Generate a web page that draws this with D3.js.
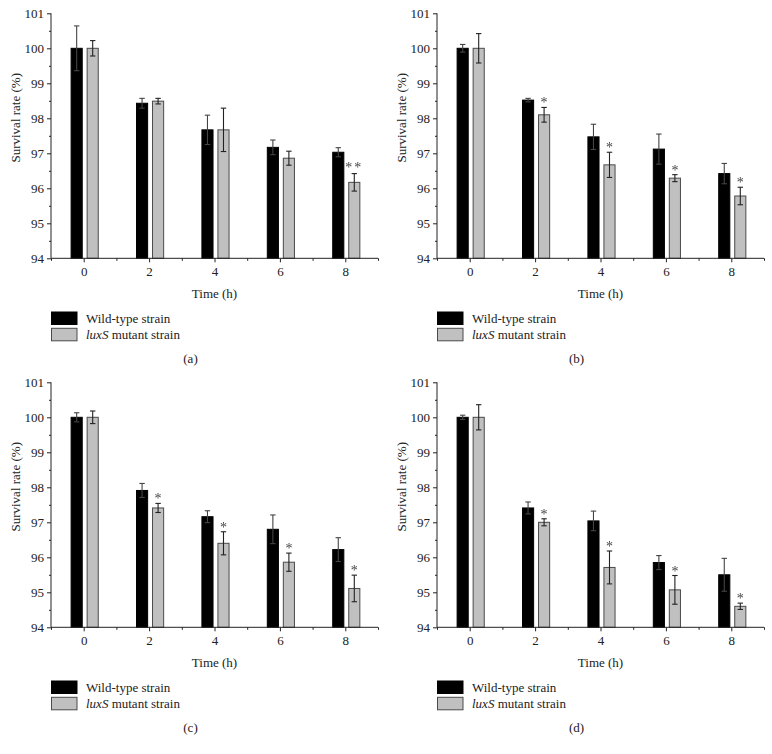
<!DOCTYPE html>
<html>
<head>
<meta charset="utf-8">
<script src="https://cdn.jsdelivr.net/npm/d3@7/dist/d3.min.js"></script>
<style>
  html, body { margin: 0; padding: 0; background: #fff; }
  svg text { font-family: "Liberation Serif", "Times New Roman", serif; fill: #222; }
</style>
</head>
<body>
<svg id="chart" width="772" height="754"></svg>
<script>
// ---- data ----
const times = [0, 2, 4, 6, 8];
const yTicks = [94, 95, 96, 97, 98, 99, 100, 101];
const panelLabels = ["(a)", "(b)", "(c)", "(d)"];
const seriesNames = ["Wild-type strain", "luxS mutant strain"];

const wildA = [100, 98.43, 97.67, 97.17, 97.03];
const wildErrA = [0.64, 0.14, 0.42, 0.21, 0.13];
const mutA = [100, 98.49, 97.67, 96.86, 96.17];
const mutErrA = [0.22, 0.08, 0.62, 0.20, 0.25];
const sigA = ["", "", "", "", "**"];

const wildB = [100, 98.52, 97.47, 97.12, 96.42];
const wildErrB = [0.11, 0.05, 0.36, 0.43, 0.29];
const mutB = [100, 98.10, 96.67, 96.29, 95.78];
const mutErrB = [0.42, 0.21, 0.36, 0.10, 0.25];
const sigB = ["", "*", "*", "*", "*"];

const wildC = [100, 97.91, 97.16, 96.80, 96.22];
const wildErrC = [0.13, 0.20, 0.17, 0.41, 0.34];
const mutC = [100, 97.41, 96.40, 95.86, 95.11];
const mutErrC = [0.18, 0.13, 0.33, 0.26, 0.38];
const sigC = ["", "*", "*", "*", "*"];

const wildD = [100, 97.41, 97.04, 95.85, 95.50];
const wildErrD = [0.06, 0.17, 0.28, 0.20, 0.47];
const mutD = [100, 97.00, 95.71, 95.07, 94.60];
const mutErrD = [0.36, 0.10, 0.47, 0.41, 0.09];
const sigD = ["", "*", "*", "*", "*"];

const panels = [
  { wild: wildA, wildErr: wildErrA, mut: mutA, mutErr: mutErrA, sig: sigA, label: panelLabels[0], dx: 0, dy: 0 },
  { wild: wildB, wildErr: wildErrB, mut: mutB, mutErr: mutErrB, sig: sigB, label: panelLabels[1], dx: 386, dy: 0 },
  { wild: wildC, wildErr: wildErrC, mut: mutC, mutErr: mutErrC, sig: sigC, label: panelLabels[2], dx: 0, dy: 369 },
  { wild: wildD, wildErr: wildErrD, mut: mutD, mutErr: mutErrD, sig: sigD, label: panelLabels[3], dx: 386, dy: 369 }
];

// ---- layout ----
const svg = d3.select("#chart");
svg.append("defs").append("filter").attr("id", "gray-aa")
  .append("feOffset").attr("dx", 0).attr("dy", 0);

const x = d3.scaleLinear().domain([-1, 9]).range([51, 378]);
const y = d3.scaleLinear().domain([94, 101]).range([258.3, 13.3]);
const barW = 0.34;               // in x units
const offsets = [-0.215, 0.275]; // centre offsets for wild / mutant
const fills = ["#000000", "#c0c0c0"];
const strokes = ["#000000", "#4a4a4a"];
const axisColor = "#222";

panels.forEach(p => {
  const g = svg.append("g").attr("transform", `translate(${p.dx},${p.dy})`);

  const series = [
    { vals: p.wild, errs: p.wildErr, k: 0 },
    { vals: p.mut, errs: p.mutErr, k: 1 }
  ];
  series.forEach(s => {
    const sg = g.append("g");
    const pts = times.map((t, i) => ({ t, v: s.vals[i], e: s.errs[i], sig: p.sig[i] }));
    sg.selectAll("rect").data(pts).join("rect")
      .attr("x", d => x(d.t + offsets[s.k] - barW / 2))
      .attr("width", d => x(d.t + barW) - x(d.t))
      .attr("y", d => y(d.v))
      .attr("height", d => y(94) - y(d.v))
      .attr("fill", fills[s.k])
      .attr("stroke", strokes[s.k])
      .attr("stroke-width", 1);
    const cx = d => x(d.t + offsets[s.k]);
    const eg = sg.append("g").attr("stroke", s.k === 0 ? "#444" : "#222").attr("stroke-width", 1.1);
    eg.selectAll("line.v").data(pts).join("line").attr("class", "v")
      .attr("x1", cx).attr("x2", cx)
      .attr("y1", d => y(d.v + d.e)).attr("y2", d => y(d.v - d.e));
    eg.selectAll("line.ct").data(pts).join("line").attr("class", "ct")
      .attr("x1", d => cx(d) - 2.7).attr("x2", d => cx(d) + 2.7)
      .attr("y1", d => y(d.v + d.e)).attr("y2", d => y(d.v + d.e));
    eg.selectAll("line.cb").data(pts).join("line").attr("class", "cb")
      .attr("x1", d => cx(d) - 2.7).attr("x2", d => cx(d) + 2.7)
      .attr("y1", d => y(d.v - d.e)).attr("y2", d => y(d.v - d.e));
    if (s.k === 1) {
      sg.append("g").attr("filter", "url(#gray-aa)")
        .selectAll("text.sig").data(pts.filter(d => d.sig)).join("text").attr("class", "sig")
        .attr("x", cx)
        .attr("y", d => y(d.v + d.e) + (d.sig.length > 1 ? -1.5 : 0))
        .attr("text-anchor", "middle")
        .attr("font-size", 14)
        .attr("letter-spacing", d => d.sig.length > 1 ? "2px" : "0px")
        .style("fill", "#444")
        .text(d => d.sig);
    }
  });

  // y axis
  const yAxis = d3.axisLeft(y).tickValues(yTicks).tickSize(4).tickPadding(3).tickFormat(d3.format("d"));
  const ya = g.append("g").attr("transform", `translate(${x(-1)},0)`).call(yAxis);
  const yMinor = d3.axisLeft(y).tickValues(d3.range(94.5, 101, 1)).tickSize(2).tickFormat("");
  const ym = g.append("g").attr("transform", `translate(${x(-1)},0)`).call(yMinor);

  // x axis
  const xAxis = d3.axisBottom(x).tickValues(times).tickSize(4).tickPadding(4).tickFormat(d3.format("d"));
  const xa = g.append("g").attr("transform", `translate(0,${y(94)})`).call(xAxis);
  const xMinor = d3.axisBottom(x).tickValues([-1, 1, 3, 5, 7, 9]).tickSize(2.5).tickFormat("");
  const xm = g.append("g").attr("transform", `translate(0,${y(94)})`).call(xMinor);

  [ya, ym, xa, xm].forEach(a => {
    a.select("path.domain").remove();
    a.selectAll("line").attr("stroke", axisColor);
    a.selectAll("text").attr("font-size", 13).style("fill", "#222");
  });
  g.append("line").attr("x1", x(-1)).attr("x2", x(-1)).attr("y1", y(101)).attr("y2", y(94)).attr("stroke", axisColor);
  g.append("line").attr("x1", x(-1)).attr("x2", x(9)).attr("y1", y(94)).attr("y2", y(94)).attr("stroke", axisColor);

  // axis titles
  g.append("text")
    .attr("transform", `translate(20,${(y(101) + y(94)) / 2 - 18}) rotate(-90)`)
    .attr("text-anchor", "middle")
    .attr("font-size", 13)
    .text("Survival rate (%)");
  g.append("text")
    .attr("x", (x(-1) + x(9)) / 2)
    .attr("y", 297.5)
    .attr("text-anchor", "middle")
    .attr("font-size", 13)
    .text("Time (h)");

  // legend
  const lg = g.append("g");
  seriesNames.forEach((name, i) => {
    lg.append("rect")
      .attr("x", 51.5).attr("y", 312 + i * 16.3)
      .attr("width", 25.5).attr("height", 12.5)
      .attr("fill", fills[i]).attr("stroke", strokes[i]).attr("stroke-width", 1);
    const t = lg.append("text")
      .attr("x", 86).attr("y", 322.5 + i * 16.3)
      .attr("font-size", 13);
    if (i === 1) {
      t.append("tspan").attr("font-style", "italic").text("luxS");
      t.append("tspan").text(" mutant strain");
    } else {
      t.text(name);
    }
  });

  // panel label
  g.append("text")
    .attr("x", 190.5).attr("y", 363)
    .attr("text-anchor", "middle")
    .attr("font-size", 13)
    .text(p.label);
});
</script>
</body>
</html>
